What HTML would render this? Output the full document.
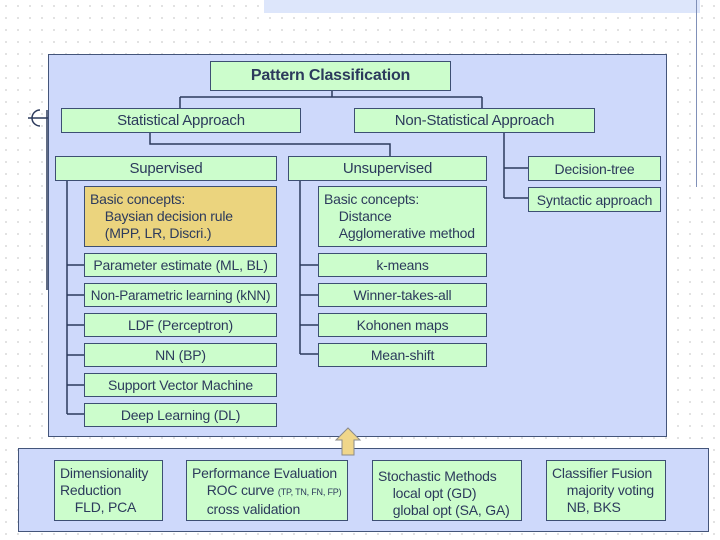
<!DOCTYPE html>
<html><head><meta charset="utf-8"><style>
body{margin:0;width:720px;height:540px;position:relative;background:#fff;overflow:hidden;font-family:"Liberation Sans",sans-serif;color:#2c3a5c;
background-image:radial-gradient(#d8d8d8 0.8px,transparent 1px);background-size:12px 12px;}
.p{position:absolute;background:#ced9fb;border:1.5px solid #44557a;box-sizing:border-box}
.b{position:absolute;background:#ccfdcc;border:1.5px solid #3d4f73;box-sizing:border-box;font-size:14px;display:flex;align-items:center;justify-content:center;white-space:nowrap;letter-spacing:-0.2px}
.t{display:block;text-align:left;padding:4px 5px;line-height:17px;align-items:flex-start}
svg{position:absolute;left:0;top:0}
</style></head><body>
<div style="position:absolute;left:264px;top:0;width:436px;height:13px;background:#dde6fb"></div>
<div style="position:absolute;left:696px;top:0;width:1px;height:187px;background:#8090b8"></div>
<div class="p" style="left:48px;top:54px;width:619px;height:383px"></div>
<div class="p" style="left:18px;top:448px;width:691px;height:84px"></div>
<svg width="720" height="540">
<g stroke="#2c3a5c" stroke-width="1.5" fill="none">
<path d="M332 90V97M180 97H482M180 97V108M482 97V108"/>
<path d="M150 132V144H390V156"/>
<path d="M504 132V198M504 168H528M504 198H528"/>
<path d="M67 180V414M67 265H84M67 295H84M67 325H84M67 355H84M67 385H84M67 414H84"/>
<path d="M300 180V354M300 265H318M300 295H318M300 325H318M300 354H318"/>
<path d="M28 118H48M47 110V290"/>
<path d="M40 110a8 8 0 0 0 0 16"/>
</g>
<path d="M336 440L348 428L360 440H354V455H342V440Z" fill="#f0d68a" stroke="#8a8a8a" stroke-width="1"/>
</svg>
<div class="b" style="left:210px;top:61px;width:241px;height:30px;font-weight:bold;font-size:16px">Pattern Classification</div>
<div class="b" style="left:61px;top:108px;width:240px;height:25px;font-size:15px">Statistical Approach</div>
<div class="b" style="left:354px;top:108px;width:241px;height:25px;font-size:15px">Non-Statistical Approach</div>
<div class="b" style="left:55px;top:156px;width:222px;height:25px;font-size:15px">Supervised</div>
<div class="b" style="left:288px;top:156px;width:199px;height:25px;font-size:15px">Unsupervised</div>
<div class="b" style="left:528px;top:156px;width:133px;height:25px">Decision-tree</div>
<div class="b" style="left:528px;top:187px;width:133px;height:25px">Syntactic approach</div>
<div class="b t" style="left:84px;top:186px;width:193px;height:61px;background:#ebd47e">Basic concepts:<br>&nbsp;&nbsp;&nbsp;&nbsp;Baysian decision rule<br>&nbsp;&nbsp;&nbsp;&nbsp;(MPP, LR, Discri.)</div>
<div class="b t" style="left:318px;top:186px;width:169px;height:61px">Basic concepts:<br>&nbsp;&nbsp;&nbsp;&nbsp;Distance<br>&nbsp;&nbsp;&nbsp;&nbsp;Agglomerative method</div>
<div class="b" style="left:84px;top:253px;width:193px;height:24px">Parameter estimate (ML, BL)</div>
<div class="b" style="left:84px;top:283px;width:193px;height:24px;font-size:13.5px">Non-Parametric learning (kNN)</div>
<div class="b" style="left:84px;top:313px;width:193px;height:24px">LDF (Perceptron)</div>
<div class="b" style="left:84px;top:343px;width:193px;height:24px">NN (BP)</div>
<div class="b" style="left:84px;top:373px;width:193px;height:24px">Support Vector Machine</div>
<div class="b" style="left:84px;top:403px;width:193px;height:24px">Deep Learning (DL)</div>
<div class="b" style="left:318px;top:253px;width:169px;height:24px">k-means</div>
<div class="b" style="left:318px;top:283px;width:169px;height:24px">Winner-takes-all</div>
<div class="b" style="left:318px;top:313px;width:169px;height:24px">Kohonen maps</div>
<div class="b" style="left:318px;top:343px;width:169px;height:24px">Mean-shift</div>
<div class="b t" style="left:54px;top:460px;width:109px;height:61px">Dimensionality<br>Reduction<br>&nbsp;&nbsp;&nbsp;&nbsp;FLD, PCA</div>
<div class="b t" style="left:186px;top:460px;width:162px;height:61px">Performance Evaluation<br>&nbsp;&nbsp;&nbsp;&nbsp;ROC curve <span style="font-size:9px">(TP, TN, FN, FP)</span><br>&nbsp;&nbsp;&nbsp;&nbsp;cross validation</div>
<div class="b t" style="left:372px;top:460px;width:150px;height:61px;padding-top:7px">Stochastic Methods<br>&nbsp;&nbsp;&nbsp;&nbsp;local opt (GD)<br>&nbsp;&nbsp;&nbsp;&nbsp;global opt (SA, GA)</div>
<div class="b t" style="left:546px;top:460px;width:120px;height:61px">Classifier Fusion<br>&nbsp;&nbsp;&nbsp;&nbsp;majority voting<br>&nbsp;&nbsp;&nbsp;&nbsp;NB, BKS</div>
</body></html>
